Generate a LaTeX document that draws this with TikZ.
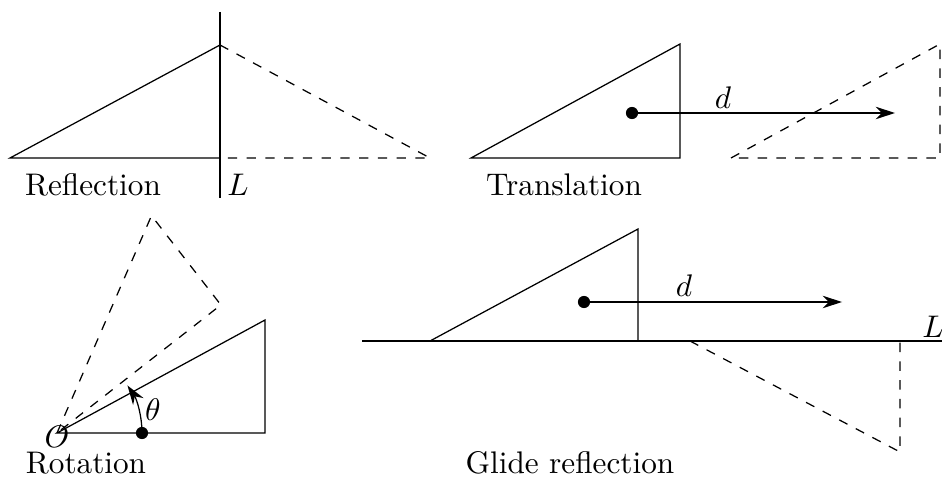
\documentclass[tikz,border=0pt]{standalone}
\usetikzlibrary{arrows.meta}
\begin{document}
\begin{tikzpicture}[x=0.32pt,y=-0.32pt,
  img/.style={dashed},
  dotnode/.style={circle,fill,inner sep=0pt,minimum size=3.9pt},
  arr/.style={-{Stealth[length=6.2pt,width=4pt,inset=2pt]}},
  lbl/.style={inner sep=0pt}]
\useasboundingbox (0,0) rectangle (942,478);
% Reflection
\coordinate (ra) at (10,158);
\coordinate (rb) at (220,45);
\coordinate (rc) at (220,158);
\coordinate (rd) at (430,158);
\coordinate (rt) at (220,12);
\coordinate (rbot) at (220,198);
\draw (ra) -- (rb) -- (rc) -- cycle;
\draw[img] (rb) -- (rd) -- (rc);
\draw (rt) -- (rbot);
\node[lbl] (rl) at (238,185) {$L$};
\node[lbl] (rn) at (93,185) {Reflection};
% Translation
\coordinate (ta) at (471,158);
\coordinate (tb) at (680,44);
\coordinate (tc) at (680,158);
\draw (ta) -- (tb) -- (tc) -- cycle;
\coordinate (ta2) at (731,158);
\coordinate (tb2) at (940,44);
\coordinate (tc2) at (940,158);
\draw[img] (ta2) -- (tb2) -- (tc2) -- cycle;
\node[dotnode] (tdot) at (632,113) {};
\coordinate (tend) at (895,113);
\draw[arr] (tdot.center) -- (tend);
\node[lbl] (td) at (723,98) {$d$};
\node[lbl] (tn) at (564,185) {Translation};
% Rotation
\coordinate (O) at (57,433);
\coordinate (ob) at (265,320);
\coordinate (oc) at (265,433);
\draw (O) -- (ob) -- (oc) -- cycle;
\begin{scope}[shift={(O)}]
\coordinate (oc2) at (-38:208);
\coordinate (ob2) at (-66.5:237);
\end{scope}
\draw[img] (O) -- (ob2) -- (oc2) -- cycle;
\node[dotnode] (odot) at (142,433) {};
\draw[arr] (odot.center) arc[start angle=0,end angle=-34,radius=85];
\node[lbl] (oth) at (153,410) {$\theta$};
\node[lbl] (ol) at (57,437) {$O$};
\node[lbl] (on) at (86,463) {Rotation};
% Glide reflection
\coordinate (gl) at (362,341);
\coordinate (gr) at (942,341);
\draw (gl) -- (gr);
\node[lbl] (gL) at (933,327) {$L$};
\coordinate (ga) at (430,341);
\coordinate (gb) at (638,229);
\coordinate (gc) at (638,341);
\draw (ga) -- (gb) -- (gc);
\coordinate (ga2) at (690,341);
\coordinate (gb2) at (900,452);
\coordinate (gc2) at (900,341);
\draw[img] (ga2) -- (gb2) -- (gc2);
\node[dotnode] (gdot) at (584,302) {};
\coordinate (gend) at (842,302);
\draw[arr] (gdot.center) -- (gend);
\node[lbl] (gd) at (684,286) {$d$};
\node[lbl] (gn) at (570,463) {Glide reflection};
\end{tikzpicture}
\end{document}
